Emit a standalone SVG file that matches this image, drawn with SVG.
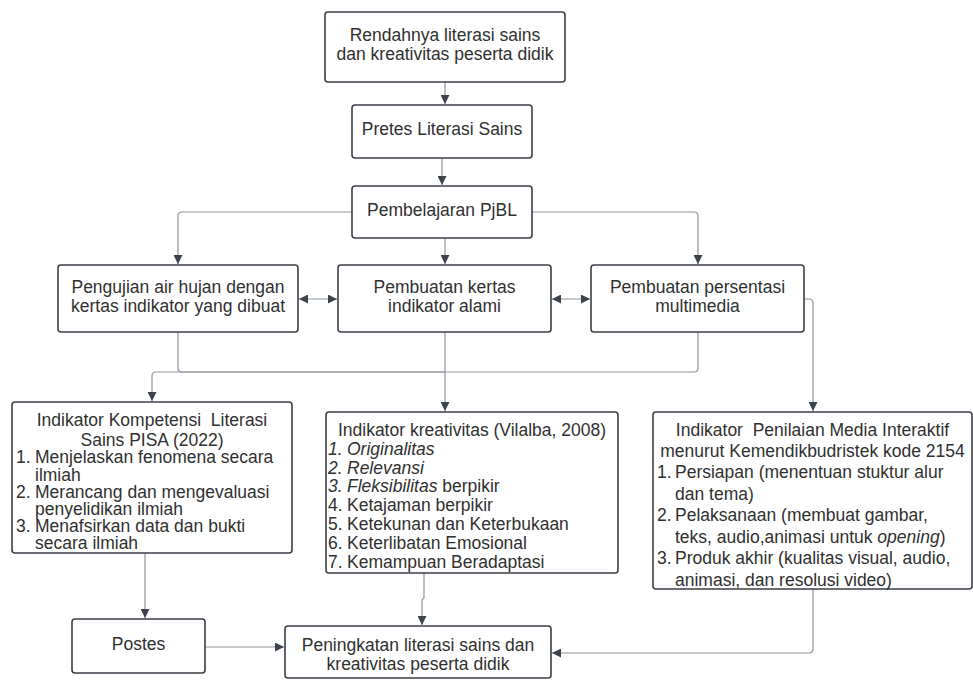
<svg xmlns="http://www.w3.org/2000/svg" width="973" height="680" viewBox="0 0 973 680">
<style>
.box{fill:#fff;stroke:#3b3f47;stroke-width:1.6}
.t{font-family:"Liberation Sans",Arial,sans-serif;font-size:17.5px;fill:#303030}
.c{text-anchor:middle}
.i{font-style:italic}
.ln{fill:none;stroke:#8e939b;stroke-width:1.2}
</style>
<defs>
<marker id="ah" viewBox="0 0 10 10" refX="10" refY="5" markerWidth="9" markerHeight="9" markerUnits="userSpaceOnUse" orient="auto-start-reverse">
<path d="M0,0 L10,5 L0,10 Z" fill="#3d434b"/>
</marker>
</defs>
<g id="connectors">
<path class="ln" d="M445,82 V104" marker-end="url(#ah)"/>
<path class="ln" d="M442,158 V185" marker-end="url(#ah)"/>
<path class="ln" d="M352,212 H182 Q178,212 178,216 V264" marker-end="url(#ah)"/>
<path class="ln" d="M532,212 H694 Q698,212 698,216 V264" marker-end="url(#ah)"/>
<path class="ln" d="M445,238 V264" marker-end="url(#ah)"/>
<path class="ln" d="M299,299 H337" marker-start="url(#ah)" marker-end="url(#ah)"/>
<path class="ln" d="M552,299 H590" marker-start="url(#ah)" marker-end="url(#ah)"/>
<path class="ln" d="M178,332 V368 Q178,372 182,372 H445"/>
<path class="ln" d="M698,332 V368 Q698,372 694,372 H445"/>
<path class="ln" d="M445,332 V411" marker-end="url(#ah)"/>
<path class="ln" d="M445,372 H156 Q152,372 152,376 V401" marker-end="url(#ah)"/>
<path class="ln" d="M804,299 H809 Q813,299 813,303 V411" marker-end="url(#ah)"/>
<path class="ln" d="M145,553 V618" marker-end="url(#ah)"/>
<path class="ln" d="M424,573 V598 L422,600 V625" marker-end="url(#ah)"/>
<path class="ln" d="M205,647 H284" marker-end="url(#ah)"/>
<path class="ln" d="M813,589 V649 Q813,653 809,653 H552" marker-end="url(#ah)"/>
</g>
<g id="n-rendah">
<rect class="box" x="325" y="12" width="240" height="70" rx="3"/>
<text class="t c" x="445" y="41">Rendahnya literasi sains</text>
<text class="t c" x="445" y="60">dan kreativitas peserta didik</text>
</g>
<g id="n-pretes">
<rect class="box" x="352" y="105" width="180" height="53" rx="3"/>
<text class="t c" x="442" y="135">Pretes Literasi Sains</text>
</g>
<g id="n-pjbl">
<rect class="box" x="352" y="186" width="180" height="52" rx="3"/>
<text class="t c" x="442" y="216">Pembelajaran PjBL</text>
</g>
<g id="n-pengujian">
<rect class="box" x="58" y="265" width="240" height="67" rx="3"/>
<text class="t c" x="178" y="292.5">Pengujian air hujan dengan</text>
<text class="t c" x="178" y="311.5">kertas indikator yang dibuat</text>
</g>
<g id="n-kertas">
<rect class="box" x="338" y="265" width="213" height="67" rx="3"/>
<text class="t c" x="444.5" y="292.5">Pembuatan kertas</text>
<text class="t c" x="444.5" y="311.5">indikator alami</text>
</g>
<g id="n-presentasi">
<rect class="box" x="591" y="265" width="213" height="67" rx="3"/>
<text class="t c" x="697.5" y="292.5">Pembuatan persentasi</text>
<text class="t c" x="697.5" y="311.5">multimedia</text>
</g>
<g id="n-pisa">
<rect class="box" x="12" y="402" width="280" height="151" rx="3"/>
<text class="t c" x="152" y="426" xml:space="preserve">Indikator Kompetensi  Literasi</text>
<text class="t c" x="152" y="445.5">Sains PISA (2022)</text>
<text class="t" x="16" y="463">1.</text><text class="t" x="35" y="463">Menjelaskan fenomena secara</text>
<text class="t" x="35" y="480.5">ilmiah</text>
<text class="t" x="16" y="497.5">2.</text><text class="t" x="35" y="497.5">Merancang dan mengevaluasi</text>
<text class="t" x="35" y="514.5">penyelidikan ilmiah</text>
<text class="t" x="16" y="531.5">3.</text><text class="t" x="35" y="531.5">Menafsirkan data dan bukti</text>
<text class="t" x="35" y="549">secara ilmiah</text>
</g>
<g id="n-kreativitas">
<rect class="box" x="326" y="412" width="292" height="161" rx="3"/>
<text class="t c" x="472" y="436">Indikator kreativitas (Vilalba, 2008)</text>
<text class="t i" x="328" y="454.5">1.</text><text class="t i" x="347" y="454.5">Originalitas</text>
<text class="t i" x="328" y="473.5">2.</text><text class="t i" x="347" y="473.5">Relevansi</text>
<text class="t i" x="328" y="492">3.</text><text class="t" x="347" y="492"><tspan class="i">Fleksibilitas</tspan> berpikir</text>
<text class="t" x="328" y="511">4.</text><text class="t" x="347" y="511">Ketajaman berpikir</text>
<text class="t" x="328" y="530">5.</text><text class="t" x="347" y="530">Ketekunan dan Keterbukaan</text>
<text class="t" x="328" y="549">6.</text><text class="t" x="347" y="549">Keterlibatan Emosional</text>
<text class="t" x="328" y="568">7.</text><text class="t" x="347" y="568">Kemampuan Beradaptasi</text>
</g>
<g id="n-media">
<rect class="box" x="653" y="412" width="319" height="177" rx="3"/>
<text class="t c" x="812.5" y="435.5" xml:space="preserve">Indikator  Penilaian Media Interaktif</text>
<text class="t c" x="812.5" y="456.5">menurut Kemendikbudristek kode 2154</text>
<text class="t" x="657" y="477.5">1.</text><text class="t" x="675" y="477.5">Persiapan (menentuan stuktur alur</text>
<text class="t" x="675" y="499.5">dan tema)</text>
<text class="t" x="657" y="521">2.</text><text class="t" x="675" y="521">Pelaksanaan (membuat gambar,</text>
<text class="t" x="675" y="542.5">teks, audio,animasi untuk <tspan class="i">opening</tspan>)</text>
<text class="t" x="657" y="564">3.</text><text class="t" x="675" y="564">Produk akhir (kualitas visual, audio,</text>
<text class="t" x="675" y="585.5">animasi, dan resolusi video)</text>
</g>
<g id="n-postes">
<rect class="box" x="72" y="619" width="133" height="54" rx="3"/>
<text class="t c" x="138.5" y="649.5">Postes</text>
</g>
<g id="n-peningkatan">
<rect class="box" x="285" y="626" width="266" height="52" rx="3"/>
<text class="t c" x="418" y="650.5">Peningkatan literasi sains dan</text>
<text class="t c" x="418" y="669.5">kreativitas peserta didik</text>
</g>
</svg>
